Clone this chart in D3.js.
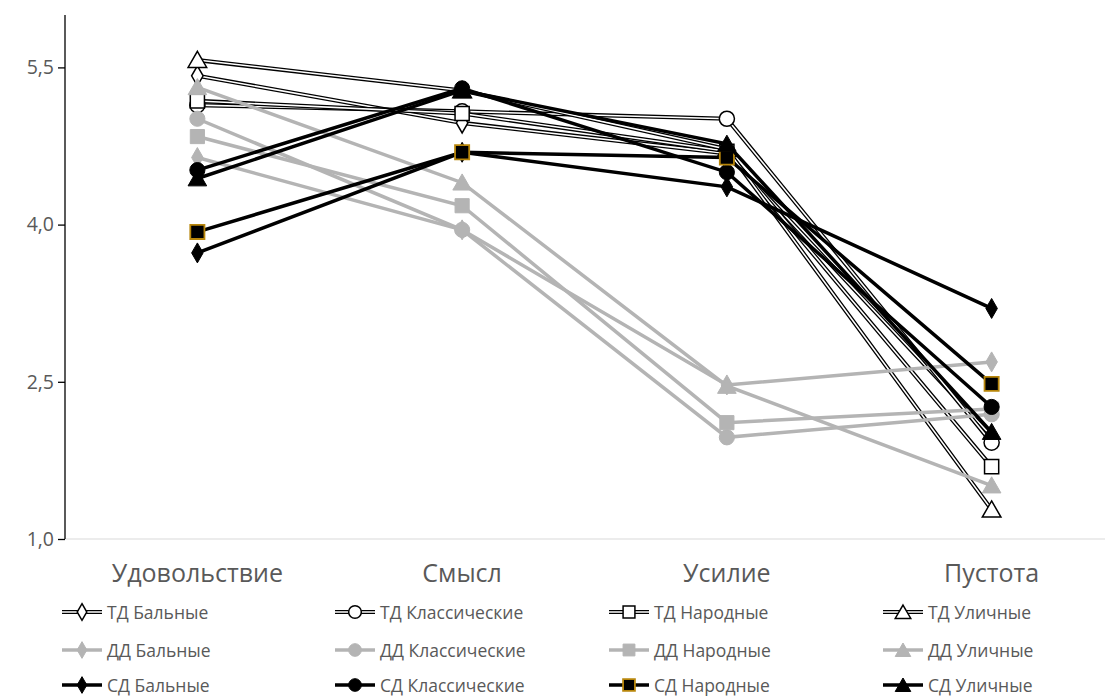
<!DOCTYPE html>
<html><head><meta charset="utf-8">
<script src="https://cdn.jsdelivr.net/npm/d3@7"></script>
<style>body{margin:0;background:#fff}svg{display:block}</style>
</head><body>
<svg id="chart" width="1105" height="697"></svg>
<script>
const categories = ["Удовольствие", "Смысл", "Усилие", "Пустота"];
const yTicks = [1.0, 2.5, 4.0, 5.5];

const seriesNames = [
  "ТД Бальные", "ТД Классические", "ТД Народные", "ТД Уличные",
  "ДД Бальные", "ДД Классические", "ДД Народные", "ДД Уличные",
  "СД Бальные", "СД Классические", "СД Народные", "СД Уличные"
];
const tdBalnye = [5.42, 4.97, 4.68, 1.98];
const tdKlassich = [5.14, 5.08, 5.01, 1.92];
const tdNarodnye = [5.18, 5.06, 4.70, 1.69];
const tdUlichnye = [5.57, 5.28, 4.72, 1.28];
const ddBalnye = [4.64, 3.95, 2.47, 2.69];
const ddKlassich = [5.01, 3.95, 1.97, 2.19];
const ddNarodnye = [4.84, 4.18, 2.11, 2.24];
const ddUlichnye = [5.31, 4.40, 2.46, 1.51];
const sdBalnye = [3.73, 4.69, 4.36, 3.20];
const sdKlassich = [4.52, 5.30, 4.50, 2.26];
const sdNarodnye = [3.93, 4.69, 4.64, 2.48];
const sdUlichnye = [4.44, 5.28, 4.77, 2.02];

const seriesValues = [tdBalnye, tdKlassich, tdNarodnye, tdUlichnye,
  ddBalnye, ddKlassich, ddNarodnye, ddUlichnye,
  sdBalnye, sdKlassich, sdNarodnye, sdUlichnye];

const shapes = ["diamond", "circle", "square", "triangle"];
const groupStyle = {
  "ТД": {type: "double", fill: "#ffffff", stroke: "#000000"},
  "ДД": {type: "gray", fill: "#b4b4b4", stroke: "#b4b4b4"},
  "СД": {type: "black", fill: "#000000", stroke: "#000000"}
};

const series = seriesNames.map((name, i) => ({
  name, values: seriesValues[i], group: name.slice(0, 2), shape: shapes[i % 4]
}));

const svg = d3.select("#chart");
const x = d3.scalePoint().domain(categories).range([65, 1124]).padding(0.5);
const y = d3.scaleLinear().domain([1, 6]).range([539, 15]);
const FONT = "'Open Sans', sans-serif";

// baseline
svg.append("line").attr("x1", 65).attr("x2", 1105).attr("y1", y(1)).attr("y2", y(1))
  .attr("stroke", "#d9d9d9").attr("stroke-width", 1);

// y axis
const yAxis = svg.append("g").attr("transform", "translate(65,0)")
  .call(d3.axisLeft(y).tickValues(yTicks).tickSize(7).tickPadding(4)
    .tickFormat(d => d3.format(".1f")(d).replace(".", ",")));
yAxis.select(".domain").attr("stroke", "#000").attr("stroke-width", 1.3).attr("d", `M0,${y(6)}V${y(1)}`);
yAxis.selectAll(".tick line").attr("stroke", "#000").attr("stroke-width", 1.3);
yAxis.selectAll(".tick text").attr("fill", "#595959").attr("font-size", 19.5)
  .attr("font-family", FONT);

// x labels
svg.append("g").selectAll("text").data(categories).join("text")
  .attr("x", d => x(d)).attr("y", 582).attr("text-anchor", "middle")
  .attr("fill", "#595959").attr("font-size", 25)
  .attr("font-family", FONT).text(d => d);

const symbolFor = {
  diamond: d3.symbolDiamond, circle: d3.symbolCircle,
  square: d3.symbolSquare, triangle: d3.symbolTriangle
};
const sizeFor = {diamond: 115, circle: 180, square: 200, triangle: 150};

function markerPath(shape, scale) {
  return d3.symbol().type(symbolFor[shape]).size(sizeFor[shape] * (scale || 1))();
}

function drawLine(g, pts, group) {
  const st = groupStyle[group];
  const line = d3.line();
  if (st.type === "double") {
    g.append("path").attr("d", line(pts)).attr("fill", "none").attr("stroke", "#000").attr("stroke-width", 4.2);
    g.append("path").attr("d", line(pts)).attr("fill", "none").attr("stroke", "#fff").attr("stroke-width", 1.6);
  } else {
    g.append("path").attr("d", line(pts)).attr("fill", "none").attr("stroke", st.stroke).attr("stroke-width", 3.5);
  }
}

function drawMarker(g, cx, cy, s, scale) {
  const st = groupStyle[s.group];
  let stroke = st.stroke, sw = st.type === "double" ? 1.5 : 1;
  if (s.name === "СД Народные") { stroke = "#b8860b"; sw = 1.8; }
  const yOff = s.shape === "triangle" ? 2 : 0;
  g.append("path").attr("d", markerPath(s.shape, scale))
    .attr("transform", `translate(${cx},${cy + yOff})`)
    .attr("fill", st.fill).attr("stroke", stroke).attr("stroke-width", sw);
}

const plot = svg.append("g");
series.forEach(s => {
  const g = plot.append("g");
  const pts = s.values.map((v, i) => [x(categories[i]), y(v)]);
  drawLine(g, pts, s.group);
  pts.forEach(p => drawMarker(g, p[0], p[1], s, 1));
});

// legend
const legCols = [62, 335, 609, 883];
const legRows = [612, 650, 685];
const legend = svg.append("g");
series.forEach((s, i) => {
  const cx = legCols[i % 4], cy = legRows[Math.floor(i / 4)];
  const g = legend.append("g");
  drawLine(g, [[cx, cy], [cx + 40, cy]], s.group);
  drawMarker(g, cx + 20, cy, s, 0.7);
  g.append("text").attr("x", cx + 45).attr("y", cy + 6.5)
    .attr("fill", "#595959").attr("font-size", 17.5)
    .attr("font-family", FONT).text(s.name);
});
</script>
</body></html>
